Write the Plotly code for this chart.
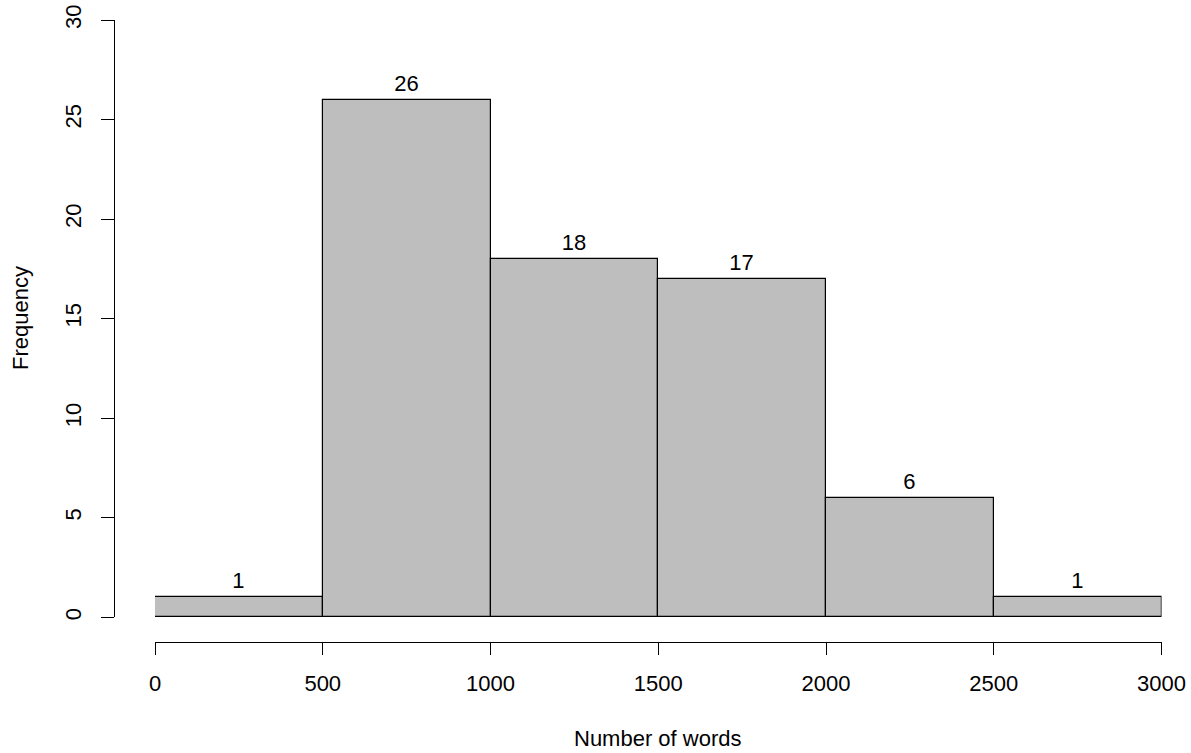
import plotly.graph_objects as go

# Data
bin_edges = [0, 500, 1000, 1500, 2000, 2500, 3000]
counts = [1, 26, 18, 17, 6, 1]
x_ticks = [0, 500, 1000, 1500, 2000, 2500, 3000]
y_ticks = [0, 5, 10, 15, 20, 25, 30]
x_title = "Number of words"
y_title = "Frequency"

W, H = 1191, 753
FONT = "Liberation Sans, Arial, sans-serif"
FS = 22

mids = [(a + b) / 2 for a, b in zip(bin_edges[:-1], bin_edges[1:])]
widths = [b - a for a, b in zip(bin_edges[:-1], bin_edges[1:])]

# pixel layout (reference pixels, converted to paper fractions)
x0_px, x1_px = 155, 1161.5
y0_px, y1_px = 617.3, 20
xline_px = 642
yline_px = 114

fig = go.Figure()
fig.add_trace(go.Bar(
    x=mids, y=counts, width=widths,
    marker=dict(color="#BEBEBE", line=dict(color="black", width=1.2)),
    text=[str(c) for c in counts], textposition="outside",
    textfont=dict(family=FONT, size=FS, color="black"),
    cliponaxis=False, constraintext="none", hoverinfo="skip",
))
# dummy trace for the detached x axis
fig.add_trace(go.Scatter(x=[x_ticks[0], x_ticks[-1]], y=[None, None], xaxis="x2",
                         mode="markers", showlegend=False, hoverinfo="skip"))

fig.update_layout(
    autosize=True, margin=dict(l=0, r=0, t=0, b=0, autoexpand=False),
    paper_bgcolor="white", plot_bgcolor="white", showlegend=False,
    bargap=0,
    font=dict(family=FONT, size=FS, color="black"),
    xaxis=dict(domain=[x0_px / W, x1_px / W], range=[x_ticks[0], x_ticks[-1]],
               showline=False, showgrid=False, zeroline=False,
               showticklabels=False, ticks=""),
    xaxis2=dict(domain=[x0_px / W, x1_px / W], range=[x_ticks[0], x_ticks[-1]],
                overlaying="x", anchor="free", position=1 - xline_px / H, side="bottom",
                showline=True, linecolor="black", linewidth=1,
                ticks="outside", ticklen=12, tickwidth=1, tickcolor="black",
                tickvals=x_ticks, ticktext=[str(t) for t in x_ticks],
                tickfont=dict(family=FONT, size=FS, color="black"),
                ticklabelstandoff=10,
                showgrid=False, zeroline=False),
    yaxis=dict(domain=[1 - y0_px / H, 1 - y1_px / H], range=[y_ticks[0], y_ticks[-1]],
               anchor="free", position=yline_px / W,
               showline=True, linecolor="black", linewidth=1,
               ticks="outside", ticklen=13, tickwidth=1, tickcolor="black",
               tickvals=y_ticks, ticktext=[str(t) for t in y_ticks], tickangle=-90,
               tickfont=dict(family=FONT, size=FS, color="black"),
               ticklabelstandoff=11,
               showgrid=False, zeroline=False),
    annotations=[
        dict(text=x_title, xref="paper", yref="paper", x=(x0_px + x1_px) / 2 / W, y=1 - 738 / H,
             showarrow=False, xanchor="center", yanchor="middle",
             font=dict(family=FONT, size=FS, color="black")),
        dict(text=y_title, xref="paper", yref="paper", x=20 / W, y=1 - 318 / H,
             showarrow=False, textangle=-90, xanchor="center", yanchor="middle",
             font=dict(family=FONT, size=FS, color="black")),
    ],
)

fig.write_html("out.html", config={"displayModeBar": False},
               default_width="100vw", default_height="100vh",
               post_script="document.documentElement.style.margin='0';"
                           "document.body.style.margin='0';"
                           "document.body.style.overflow='hidden';")
